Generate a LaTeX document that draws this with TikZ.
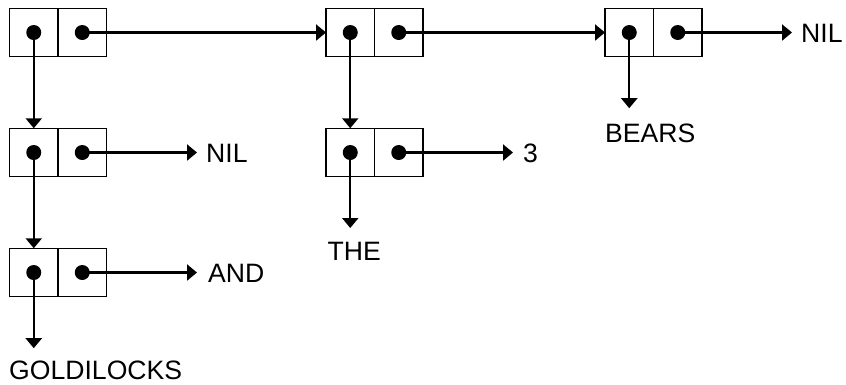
\documentclass[tikz,border=0pt]{standalone}
\usepackage{fontspec}
\setmainfont{Liberation Sans}
\usetikzlibrary{arrows.meta}
\begin{document}
\begin{tikzpicture}[x=1pt,y=-1pt,
  cellbox/.style={draw, line width=1.1pt, minimum size=48.5pt, inner sep=0pt, outer sep=0pt},
  ptr/.style={line width=2.2pt, -{Triangle[length=10pt,width=16pt]}},
  lbl/.style={inner sep=0pt, font=\fontsize{26.6}{30}\selectfont},
  dotmark/.style={fill=black}
]
\useasboundingbox (0,0) rectangle (846,384);
% cons cells (car / cdr)
\node[cellbox] (aA) at (33.75,32.5) {};
\node[cellbox] (dA) at (82.25,32.5) {};
\node[cellbox] (aB) at (350.25,32.5) {};
\node[cellbox] (dB) at (398.75,32.5) {};
\node[cellbox] (aC) at (629.25,32.5) {};
\node[cellbox] (dC) at (677.75,32.5) {};
\node[cellbox] (aD) at (33.75,152.5) {};
\node[cellbox] (dD) at (82.25,152.5) {};
\node[cellbox] (aE) at (350.25,152.5) {};
\node[cellbox] (dE) at (398.75,152.5) {};
\node[cellbox] (aF) at (33.75,272.5) {};
\node[cellbox] (dF) at (82.25,272.5) {};
% labels
\node[lbl, anchor=base west] (nil1) at (801,42.5) {NIL};
\node[lbl, anchor=base west] (bears) at (605,142) {BEARS};
\node[lbl, anchor=base west] (nil2) at (206,162.5) {NIL};
\node[lbl, anchor=base west] (three) at (523,162.5) {3};
\node[lbl, anchor=base west] (the) at (327.5,260.5) {THE};
\node[lbl, anchor=base west] (and) at (208,282.5) {AND};
\node[lbl, anchor=base west] (gold) at (9,379) {GOLDILOCKS};
% pointers
\draw[ptr] (dA.center) -- (aB.west);
\draw[ptr] (dB.center) -- (aC.west);
\draw[ptr, shorten >=9pt] (dC.center) -- (dC.center -| nil1.west);
\draw[ptr] (aA.center) -- (aD.north);
\draw[ptr] (aD.center) -- (aF.north);
\draw[ptr] (aB.center) -- (aE.north);
\draw[ptr, shorten >=15pt] (aC.center) -- (aC.center |- bears.north);
\draw[ptr, shorten >=9pt] (dD.center) -- (dD.center -| nil2.west);
\draw[ptr, shorten >=11pt] (dF.center) -- (dF.center -| and.west);
\draw[ptr, shorten >=10pt] (dE.center) -- (dE.center -| three.west);
\draw[ptr, shorten >=14pt] (aE.center) -- (aE.center |- the.north);
\draw[ptr, shorten >=12pt] (aF.center) -- (aF.center |- gold.north);
% dots
\foreach \c in {aA,dA,aB,dB,aC,dC,aD,dD,aE,dE,aF,dF}
  \fill[dotmark] (\c.center) circle (7.5pt);
\end{tikzpicture}
\end{document}
